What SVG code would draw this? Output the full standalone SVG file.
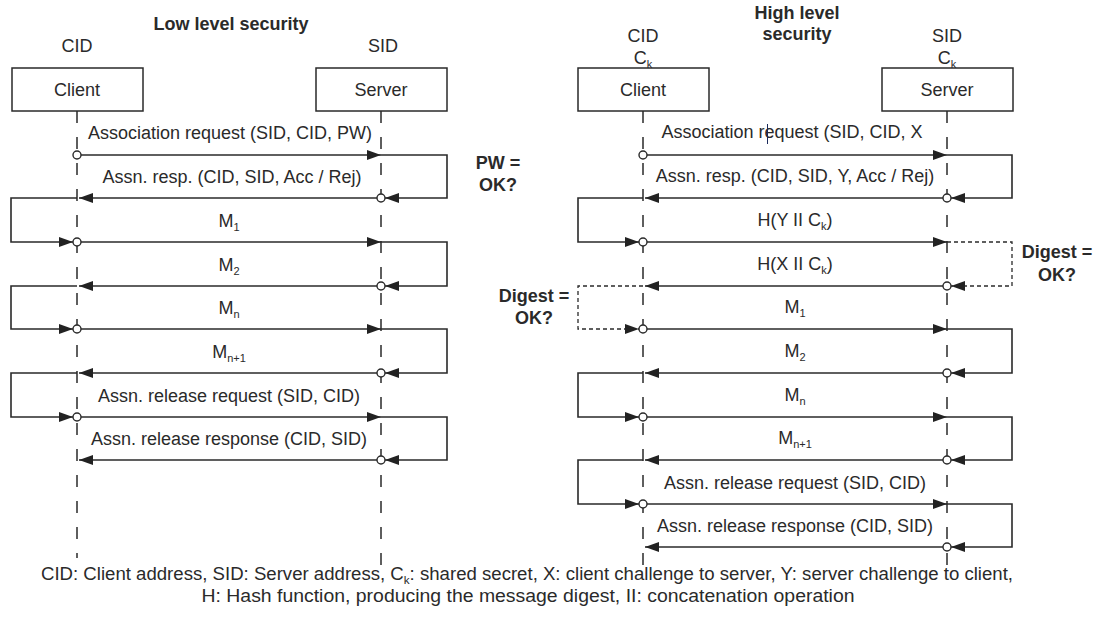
<svg xmlns="http://www.w3.org/2000/svg" width="1096" height="637" viewBox="0 0 1096 637">
  <style>
    .bg { fill: #ffffff; }
    .txt { font-family: "Liberation Sans", Arial, sans-serif; font-size: 18px; fill: #2a2a2a; }
    .ttl { font-family: "Liberation Sans", Arial, sans-serif; font-size: 18px; font-weight: bold; fill: #2a2a2a; }
    .foot { font-family: "Liberation Sans", Arial, sans-serif; font-size: 17.5px; fill: #2a2a2a; }
    .box { fill: #ffffff; stroke: #2a2a2a; stroke-width: 1.5; }
    .life { stroke: #2a2a2a; stroke-width: 1.5; stroke-dasharray: 12 14; fill: none; }
    .msg { stroke: #2a2a2a; stroke-width: 1.6; fill: none; marker-end: url(#ah); }
    .loop { stroke: #2a2a2a; stroke-width: 1.6; fill: none; marker-end: url(#ah); }
    .dloop { stroke: #2a2a2a; stroke-width: 1.3; stroke-dasharray: 4 3; fill: none; marker-end: url(#ah); }
    .dot { fill: #ffffff; stroke: #2a2a2a; stroke-width: 1.4; }
  </style>
  <defs>
    <marker id="ah" viewBox="0 0 14 10" refX="14" refY="5" markerWidth="14" markerHeight="10" markerUnits="userSpaceOnUse" orient="auto">
      <path d="M0,0 L14,5 L0,10 z" fill="#222222"/>
    </marker>
  </defs>

  <rect class="bg" x="0" y="0" width="1096" height="637"/>

  <!-- headings -->
  <g id="titles">
    <text class="ttl" x="231" y="30" text-anchor="middle">Low level security</text>
    <text class="ttl" x="797" y="19" text-anchor="middle">High level</text>
    <text class="ttl" x="797" y="40" text-anchor="middle">security</text>
    <text class="txt" x="77" y="52" text-anchor="middle">CID</text>
    <text class="txt" x="383" y="52" text-anchor="middle">SID</text>
    <text class="txt" x="643" y="42" text-anchor="middle">CID</text>
    <text class="txt" x="643" y="64" text-anchor="middle">C<tspan font-size="11" dy="4">k</tspan></text>
    <text class="txt" x="947" y="42" text-anchor="middle">SID</text>
    <text class="txt" x="947" y="64" text-anchor="middle">C<tspan font-size="11" dy="4">k</tspan></text>
  </g>

  <!-- participants -->
  <g id="client-low">
    <rect class="box" x="12" y="68" width="131" height="43"/>
    <text class="txt" x="77" y="96" text-anchor="middle">Client</text>
  </g>
  <g id="server-low">
    <rect class="box" x="316" y="68" width="131" height="43"/>
    <text class="txt" x="381" y="96" text-anchor="middle">Server</text>
  </g>
  <g id="client-high">
    <rect class="box" x="578" y="68" width="131" height="43"/>
    <text class="txt" x="643" y="96" text-anchor="middle">Client</text>
  </g>
  <g id="server-high">
    <rect class="box" x="882" y="68" width="131" height="43"/>
    <text class="txt" x="947" y="96" text-anchor="middle">Server</text>
  </g>

  <g id="connectors">
    <!-- lifelines -->
    <path class="life" d="M77,111 V558"/>
    <path class="life" d="M381,111 V570"/>
    <path class="life" d="M643,111 V572"/>
    <path class="life" d="M947,111 V572"/>

    <!-- low level exchange -->
    <path class="msg" d="M81,155 H381"/>
    <path class="loop" d="M381,155 H447 V198 H385"/>
    <path class="msg" d="M377,198 H79"/>
    <path class="loop" d="M77,198 H11 V242 H73"/>
    <path class="msg" d="M81,242 H381"/>
    <path class="loop" d="M381,242 H447 V286 H385"/>
    <path class="msg" d="M377,286 H79"/>
    <path class="loop" d="M77,286 H11 V329 H73"/>
    <path class="msg" d="M81,329 H381"/>
    <path class="loop" d="M381,329 H447 V373 H385"/>
    <path class="msg" d="M377,373 H79"/>
    <path class="loop" d="M77,373 H11 V417 H73"/>
    <path class="msg" d="M81,417 H381"/>
    <path class="loop" d="M381,417 H447 V460 H385"/>
    <path class="msg" d="M377,460 H79"/>

    <!-- high level exchange -->
    <path class="msg" d="M647,155 H947"/>
    <path class="loop" d="M947,155 H1012 V198 H951"/>
    <path class="msg" d="M943,198 H645"/>
    <path class="loop" d="M643,198 H578 V242 H639"/>
    <path class="msg" d="M647,242 H947"/>
    <path class="dloop" d="M947,242 H1012 V286 H951"/>
    <path class="msg" d="M943,286 H645"/>
    <path class="dloop" d="M643,286 H578 V329 H639"/>
    <path class="msg" d="M647,329 H947"/>
    <path class="loop" d="M947,329 H1012 V373 H951"/>
    <path class="msg" d="M943,373 H645"/>
    <path class="loop" d="M643,373 H578 V417 H639"/>
    <path class="msg" d="M647,417 H947"/>
    <path class="loop" d="M947,417 H1012 V460 H951"/>
    <path class="msg" d="M943,460 H645"/>
    <path class="loop" d="M643,460 H578 V504 H639"/>
    <path class="msg" d="M647,504 H947"/>
    <path class="loop" d="M947,504 H1012 V547 H951"/>
    <path class="msg" d="M943,547 H645"/>

    <!-- send/receive points -->
    <circle class="dot" cx="77" cy="155" r="4"/>
    <circle class="dot" cx="381" cy="198" r="4"/>
    <circle class="dot" cx="77" cy="242" r="4"/>
    <circle class="dot" cx="381" cy="286" r="4"/>
    <circle class="dot" cx="77" cy="329" r="4"/>
    <circle class="dot" cx="381" cy="373" r="4"/>
    <circle class="dot" cx="77" cy="417" r="4"/>
    <circle class="dot" cx="381" cy="460" r="4"/>

    <circle class="dot" cx="643" cy="155" r="4"/>
    <circle class="dot" cx="947" cy="198" r="4"/>
    <circle class="dot" cx="643" cy="242" r="4"/>
    <circle class="dot" cx="947" cy="286" r="4"/>
    <circle class="dot" cx="643" cy="329" r="4"/>
    <circle class="dot" cx="947" cy="373" r="4"/>
    <circle class="dot" cx="643" cy="417" r="4"/>
    <circle class="dot" cx="947" cy="460" r="4"/>
    <circle class="dot" cx="643" cy="504" r="4"/>
    <circle class="dot" cx="947" cy="547" r="4"/>
  </g>

  <!-- message labels -->
  <g id="labels-low">
    <text class="txt" x="230" y="139" text-anchor="middle">Association request (SID, CID, PW)</text>
    <text class="txt" x="232" y="183" text-anchor="middle">Assn. resp. (CID, SID, Acc / Rej)</text>
    <text class="txt" x="229" y="227" text-anchor="middle">M<tspan font-size="11" dy="4">1</tspan></text>
    <text class="txt" x="229" y="271" text-anchor="middle">M<tspan font-size="11" dy="4">2</tspan></text>
    <text class="txt" x="229" y="314" text-anchor="middle">M<tspan font-size="11" dy="4">n</tspan></text>
    <text class="txt" x="229" y="358" text-anchor="middle">M<tspan font-size="11" dy="4">n+1</tspan></text>
    <text class="txt" x="229" y="402" text-anchor="middle">Assn. release request (SID, CID)</text>
    <text class="txt" x="229" y="445" text-anchor="middle">Assn. release response (CID, SID)</text>
  </g>
  <g id="labels-high">
    <text class="txt" x="792" y="138" text-anchor="middle">Association request (SID, CID, X</text>
    <line x1="767.5" y1="124" x2="767.5" y2="144" stroke="#1a2a5a" stroke-width="1"/>
    <text class="txt" x="795" y="182" text-anchor="middle">Assn. resp. (CID, SID, Y, Acc / Rej)</text>
    <text class="txt" x="795" y="226" text-anchor="middle">H(Y II C<tspan font-size="11" dy="4">k</tspan><tspan dy="-4">)</tspan></text>
    <text class="txt" x="795" y="270" text-anchor="middle">H(X II C<tspan font-size="11" dy="4">k</tspan><tspan dy="-4">)</tspan></text>
    <text class="txt" x="795" y="313" text-anchor="middle">M<tspan font-size="11" dy="4">1</tspan></text>
    <text class="txt" x="795" y="357" text-anchor="middle">M<tspan font-size="11" dy="4">2</tspan></text>
    <text class="txt" x="795" y="401" text-anchor="middle">M<tspan font-size="11" dy="4">n</tspan></text>
    <text class="txt" x="795" y="444" text-anchor="middle">M<tspan font-size="11" dy="4">n+1</tspan></text>
    <text class="txt" x="795" y="489" text-anchor="middle">Assn. release request (SID, CID)</text>
    <text class="txt" x="795" y="532" text-anchor="middle">Assn. release response (CID, SID)</text>
  </g>

  <!-- check annotations -->
  <g id="checks">
    <text class="ttl" x="498" y="169" text-anchor="middle">PW =</text>
    <text class="ttl" x="498" y="191" text-anchor="middle">OK?</text>
    <text class="ttl" x="1057" y="258" text-anchor="middle">Digest =</text>
    <text class="ttl" x="1057" y="281" text-anchor="middle">OK?</text>
    <text class="ttl" x="534" y="302" text-anchor="middle">Digest =</text>
    <text class="ttl" x="534" y="324" text-anchor="middle">OK?</text>
  </g>

  <!-- legend -->
  <g id="legend">
    <text class="foot" x="527" y="580" text-anchor="middle" textLength="972" lengthAdjust="spacingAndGlyphs">CID: Client address, SID: Server address, C<tspan font-size="11" dy="4">k</tspan><tspan dy="-4">: shared secret, X: client challenge to server, Y: server challenge to client,</tspan></text>
    <text class="foot" x="528" y="602" text-anchor="middle" textLength="653" lengthAdjust="spacingAndGlyphs">H: Hash function, producing the message digest, II: concatenation operation</text>
  </g>
</svg>
